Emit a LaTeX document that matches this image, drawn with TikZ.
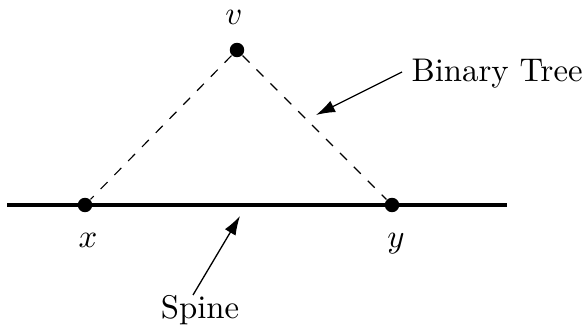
\documentclass[tikz,border=0pt]{standalone}
\usetikzlibrary{arrows.meta}
\begin{document}
\begin{tikzpicture}[x=0.305pt,y=-0.305pt,
  dot/.style={circle,fill=black,inner sep=0pt,minimum size=4.4pt},
  lbl/.style={inner sep=0pt,anchor=base},
  treeedge/.style={dashed,line width=0.35pt},
  pointer/.style={line width=0.4pt,-{Latex[length=5.8pt,width=3.8pt]}}]
\useasboundingbox (0,0) rectangle (587,330);
\coordinate (sl) at (7,205);
\coordinate (sr) at (507,205);
\draw[line width=1.5pt] (sl) -- (sr);
\node[dot] (x) at (85,205) {};
\node[dot] (y) at (392,205) {};
\node[dot] (v) at (237,50) {};
\draw[treeedge] (v) -- (x);
\draw[treeedge] (v) -- (y);
\node[lbl] (vl) at (234,25) {$v$};
\node[lbl] (xl) at (88,247) {$x$};
\node[lbl] (yl) at (396,247) {$y$};
\node[lbl,anchor=base west] (bt) at (411,82) {Binary Tree};
\node[lbl] (sp) at (200,318) {Spine};
\coordinate (btt) at (402,72);
\coordinate (bth) at (316,115);
\draw[pointer] (btt) -- (bth);
\coordinate (spt) at (193,295);
\coordinate (sph) at (240,216);
\draw[pointer] (spt) -- (sph);
\end{tikzpicture}
\end{document}
